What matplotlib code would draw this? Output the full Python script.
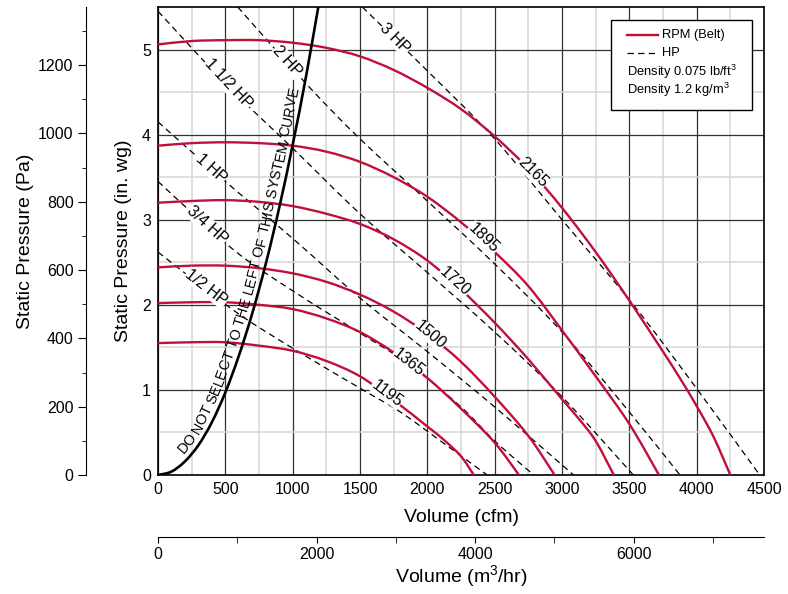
import matplotlib
matplotlib.use('Agg')
import matplotlib.pyplot as plt
import numpy as np
from matplotlib import font_manager, ft2font
from matplotlib.patches import Rectangle, PathPatch
from matplotlib.lines import Line2D
from matplotlib.path import Path

plt.rcParams['font.family'] = ['Liberation Sans', 'DejaVu Sans']
plt.rcParams['mathtext.fontset'] = 'custom'
plt.rcParams['mathtext.rm'] = 'Liberation Sans'
plt.rcParams['mathtext.it'] = 'Liberation Sans:italic'
plt.rcParams['mathtext.bf'] = 'Liberation Sans:bold'

PA_PER_INWG = 249.09
M3H_PER_CFM = 1.699

# fan curves, volume (cfm) vs static pressure (in. wg)
cfm_2165 = [0, 250, 500, 750, 1000, 1250, 1500, 1750, 2000, 2250, 2500, 2750, 3000, 3250, 3500, 3750, 3875, 4000, 4125, 4250]
sp_2165 = [5.06, 5.10, 5.11, 5.11, 5.08, 5.02, 4.92, 4.76, 4.55, 4.30, 3.98, 3.60, 3.14, 2.62, 2.05, 1.45, 1.14, 0.81, 0.45, 0]
cfm_1895 = [0, 250, 500, 750, 1000, 1250, 1500, 1750, 2000, 2250, 2500, 2750, 3000, 3250, 3500, 3720]
sp_1895 = [3.87, 3.90, 3.91, 3.90, 3.87, 3.80, 3.68, 3.50, 3.27, 2.97, 2.62, 2.22, 1.70, 1.16, 0.60, 0]
cfm_1720 = [0, 250, 500, 750, 1000, 1250, 1500, 1750, 2000, 2250, 2500, 2750, 3000, 3125, 3250, 3385]
sp_1720 = [3.20, 3.22, 3.23, 3.21, 3.16, 3.07, 2.95, 2.77, 2.52, 2.18, 1.79, 1.36, 0.89, 0.66, 0.40, 0]
cfm_1500 = [0, 250, 500, 750, 1000, 1250, 1500, 1750, 2000, 2250, 2500, 2750, 2945]
sp_1500 = [2.44, 2.46, 2.46, 2.43, 2.37, 2.27, 2.12, 1.92, 1.66, 1.33, 0.92, 0.46, 0]
cfm_1365 = [0, 250, 500, 750, 1000, 1250, 1500, 1750, 2000, 2250, 2500, 2680]
sp_1365 = [2.02, 2.03, 2.03, 2.00, 1.95, 1.84, 1.68, 1.44, 1.14, 0.78, 0.38, 0]
cfm_1195 = [0, 250, 500, 750, 1000, 1250, 1500, 1750, 2000, 2125, 2250, 2345]
sp_1195 = [1.55, 1.56, 1.56, 1.52, 1.46, 1.34, 1.16, 0.88, 0.57, 0.41, 0.22, 0]

# horsepower lines
cfm_hp3 = [1517, 2000, 2500, 3000, 3530, 4012, 4468]
sp_hp3 = [5.5, 4.75, 3.95, 3.0, 2.0, 0.99, 0]
cfm_hp2 = [592, 1111, 1500, 2000, 2500, 3000, 3500, 3876]
sp_hp2 = [5.5, 4.58, 3.95, 3.22, 2.48, 1.68, 0.74, 0]
cfm_hp15 = [0, 500, 1000, 1500, 2000, 2500, 3000, 3530]
sp_hp15 = [5.45, 4.60, 3.84, 3.07, 2.38, 1.68, 0.92, 0]
cfm_hp1 = [0, 500, 1000, 1500, 2000, 2500, 3086]
sp_hp1 = [4.15, 3.45, 2.78, 2.08, 1.45, 0.80, 0]
cfm_hp075 = [0, 566, 1034, 1478, 1864, 2250, 2500, 2790]
sp_hp075 = [3.45, 2.64, 2.13, 1.69, 1.30, 0.80, 0.40, 0]
cfm_hp05 = [0, 566, 1000, 1500, 1800, 2150, 2444]
sp_hp05 = [2.62, 1.93, 1.49, 1.02, 0.74, 0.34, 0]

# system curve
sys_cfm = [0, 100, 200, 300, 400, 500, 600, 700, 800, 900, 1000, 1100, 1200]
sys_sp = [0, 0.04, 0.16, 0.35, 0.62, 0.97, 1.40, 1.90, 2.48, 3.14, 3.88, 4.69, 5.59]

fans = [('2165', cfm_2165, sp_2165), ('1895', cfm_1895, sp_1895), ('1720', cfm_1720, sp_1720),
        ('1500', cfm_1500, sp_1500), ('1365', cfm_1365, sp_1365), ('1195', cfm_1195, sp_1195)]
hps = [('3 HP', cfm_hp3, sp_hp3), ('2 HP', cfm_hp2, sp_hp2), ('1 1/2 HP', cfm_hp15, sp_hp15),
       ('1 HP', cfm_hp1, sp_hp1), ('3/4 HP', cfm_hp075, sp_hp075), ('1/2 HP', cfm_hp05, sp_hp05)]

RED = '#c0103a'
W, H = 788, 594


def smooth_path(x, y):
    # bezier path through the read points (catmull-rom tangents)
    p = np.column_stack([x, y]).astype(float)
    q = np.vstack([p[0], p, p[-1]])
    verts, codes = [p[0]], [Path.MOVETO]
    for i in range(len(p) - 1):
        c1 = q[i + 1] + (q[i + 2] - q[i]) / 6
        c2 = q[i + 2] - (q[i + 3] - q[i + 1]) / 6
        verts += [c1, c2, p[i + 1]]
        codes += [Path.CURVE4] * 3
    return Path(verts, codes)


fig = plt.figure(figsize=(W / 100, H / 100), dpi=100)
ax = fig.add_axes([158 / W, 119 / H, 606 / W, 468 / H])
ax.set_xlim(0, 4500)
ax.set_ylim(0, 5.5)
ax.set_xticks(np.arange(0, 4501, 500))
ax.set_yticks(np.arange(0, 6))
ax.set_xticks(np.arange(0, 4501, 250), minor=True)
ax.set_yticks(np.arange(0, 5.51, 0.5), minor=True)
ax.grid(which='minor', color='#d6d6d6', lw=1.1)
ax.grid(which='major', color='#333333', lw=0.9)
ax.set_axisbelow(True)
ax.tick_params(which='both', length=0, labelsize=11.5, pad=5)
for s in ax.spines.values():
    s.set_linewidth(1.2)
ax.set_xlabel('Volume (cfm)', fontsize=14, labelpad=9)
ax.set_ylabel('Static Pressure (in. wg)', fontsize=14, labelpad=7)

for name, x, y in fans:
    ax.add_patch(PathPatch(smooth_path(x, y), fill=False, ec=RED, lw=1.7, zorder=3))
for name, x, y in hps:
    ax.add_patch(PathPatch(smooth_path(x, y), fill=False, ec='black', lw=0.9, ls=(0, (5, 3.5)), zorder=2))
sys_path = smooth_path(sys_cfm, sys_sp)
ax.add_patch(PathPatch(sys_path, fill=False, ec='black', lw=1.9, zorder=4))

lab_box = dict(fc='white', ec='none', pad=0.3)
fan_lab = {'2165': (2785, 3.56, -45), '1895': (2415, 2.78, -44), '1720': (2205, 2.28, -42),
           '1500': (2020, 1.65, -40), '1365': (1860, 1.32, -38), '1195': (1700, 0.96, -37)}
for name, (x, y, r) in fan_lab.items():
    ax.text(x, y, name, fontsize=11.5, rotation=r, rotation_mode='anchor', ha='center', va='center',
            bbox=lab_box, zorder=5)
hp_lab = {'3 HP': (1760, 5.13, -45), '2 HP': (958, 4.86, -48), '1 1/2 HP': (520, 4.60, -47),
          '1 HP': (393, 3.60, -42), '3/4 HP': (364, 2.94, -42), '1/2 HP': (357, 2.20, -38)}
for name, (x, y, r) in hp_lab.items():
    ax.text(x, y, name, fontsize=11.5, rotation=r, rotation_mode='anchor', ha='center', va='center',
            bbox=lab_box, zorder=5)

# text running along the system curve
sys_text = 'DO NOT SELECT TO THE LEFT OF THIS SYSTEM CURVE'
fs = 10.4
fpath = font_manager.findfont(font_manager.FontProperties(family='Liberation Sans'))
ftf = ft2font.FT2Font(fpath)
ftf.set_size(fs, 100)
pts = sys_path.to_polygons(ax.transData, closed_only=False)[0]
seg = np.hypot(np.diff(pts[:, 0]), np.diff(pts[:, 1]))
pts = pts[np.concatenate([[True], seg > 1e-6])]
seg = np.hypot(np.diff(pts[:, 0]), np.diff(pts[:, 1]))
arc = np.concatenate([[0], np.cumsum(seg)])
tx, ty = np.gradient(pts[:, 0], arc), np.gradient(pts[:, 1], arc)
start = ax.transData.transform((225, 0.21))
s = arc[np.argmin(np.hypot(pts[:, 0] - start[0], pts[:, 1] - start[1]))]
for ch in sys_text:
    adv = ftf.load_char(ord(ch)).linearHoriAdvance / 65536
    px, py = np.interp(s, arc, pts[:, 0]), np.interp(s, arc, pts[:, 1])
    dx, dy = np.interp(s + adv / 2, arc, tx), np.interp(s + adv / 2, arc, ty)
    n = np.hypot(dx, dy)
    dx, dy = dx / n, dy / n
    bx, by = px - dy * 5.5, py + dx * 5.5
    xd, yd = ax.transData.inverted().transform((bx, by))
    ax.text(xd, yd, ch, fontsize=fs, rotation=np.degrees(np.arctan2(dy, dx)), rotation_mode='anchor',
            ha='left', va='baseline', zorder=5)
    s += adv

# legend box
ax.add_patch(Rectangle((0.747, 0.780), 0.234, 0.192, transform=ax.transAxes, fc='white', ec='black',
                       lw=1.0, zorder=6))
ax.add_line(Line2D([0.774, 0.825], [0.940, 0.940], transform=ax.transAxes, color=RED, lw=1.7, zorder=7))
ax.add_line(Line2D([0.774, 0.825], [0.902, 0.902], transform=ax.transAxes, color='black', lw=0.9,
                   dashes=(5, 3.5), zorder=7))
ax.text(0.832, 0.940, 'RPM (Belt)', transform=ax.transAxes, fontsize=9.3, va='center', zorder=7)
ax.text(0.832, 0.902, 'HP', transform=ax.transAxes, fontsize=9.3, va='center', zorder=7)
ax.text(0.774, 0.862, r'Density 0.075 lb/ft$^3$', transform=ax.transAxes, fontsize=9.3, va='center', zorder=7)
ax.text(0.774, 0.823, r'Density 1.2 kg/m$^3$', transform=ax.transAxes, fontsize=9.3, va='center', zorder=7)

# pascal axis on the far left
ax_pa = fig.add_axes([86 / W, 119 / H, 0.0001, 468 / H])
ax_pa.set_ylim(0, 5.5 * PA_PER_INWG)
for k in ['top', 'right', 'bottom']:
    ax_pa.spines[k].set_visible(False)
ax_pa.patch.set_visible(False)
ax_pa.set_xticks([])
ax_pa.set_yticks(range(0, 1201, 200))
ax_pa.set_yticks(range(0, 1301, 100), minor=True)
ax_pa.tick_params(which='major', length=6, pad=3, labelsize=11.5)
ax_pa.tick_params(which='minor', length=3)
ax_pa.set_ylabel('Static Pressure (Pa)', fontsize=14, labelpad=3)

# cubic metres per hour axis under the chart
ax_m3 = fig.add_axes([158 / W, 57 / H, 606 / W, 0.0001])
ax_m3.set_xlim(0, 4500 * M3H_PER_CFM)
for k in ['top', 'right', 'left']:
    ax_m3.spines[k].set_visible(False)
ax_m3.patch.set_visible(False)
ax_m3.set_yticks([])
ax_m3.set_xticks(range(0, 6001, 2000))
ax_m3.set_xticks(range(0, 7001, 1000), minor=True)
ax_m3.tick_params(which='both', length=4, pad=3, labelsize=11.5)
ax_m3.set_xlabel(r'Volume (m$^3$/hr)', fontsize=14, labelpad=1)

fig.savefig('out.png', dpi=100)
